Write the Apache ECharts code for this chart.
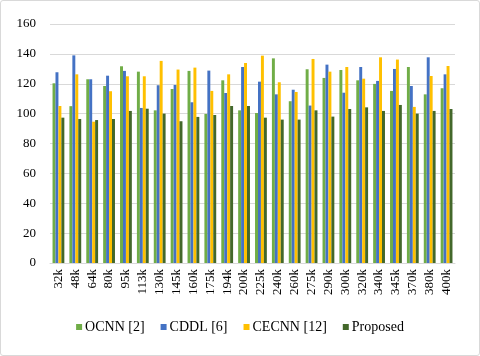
<!DOCTYPE html>
<html>
<head>
<meta charset="utf-8">
<script src="https://cdn.jsdelivr.net/npm/echarts@6/dist/echarts.min.js"></script>
<style>
html, body { margin: 0; padding: 0; background: #fff; }
#chart { width: 478px; height: 354px; border: 1px solid #d9d9d9; border-radius: 3px; }
</style>
</head>
<body>
<div id="chart"></div>
<script>
var categories = ['32k', '48k', '64k', '80k', '95k', '113k', '130k', '145k', '160k', '175k', '194k', '200k',
    '225k', '240k', '260k', '275k', '290k', '300k', '320k', '340k', '345k', '370k', '380k', '400k'];

var ocnn = [120.3, 105, 123, 118.5, 131.7, 128.1, 102.2, 116.5, 128.6, 99.8, 122.3, 102.2,
    100.4, 137, 108.3, 129.7, 123.9, 129.2, 122.3, 119.9, 115.2, 131.2, 112.9, 117];
var cddl = [127.7, 139, 123, 125.4, 128.6, 103.8, 119, 119.2, 107.6, 128.8, 113.8, 131.2,
    121.4, 112.9, 116, 105.4, 132.8, 114, 131.2, 121.9, 129.9, 118.5, 137.7, 126.3];
var cecnn = [105.1, 126.3, 94.6, 115, 125, 125, 135.3, 129.5, 130.8, 115.2, 126.3, 133.9,
    138.8, 121, 114.5, 136.6, 128.1, 131.2, 123.4, 137.7, 136.2, 104.5, 125.2, 131.9];
var proposed = [97.3, 96.4, 95.7, 96.4, 101.8, 103.3, 100, 94.9, 97.8, 99.1, 105.1, 105.1,
    97.3, 96, 96, 102.2, 98, 103.1, 104.2, 101.8, 105.8, 100, 101.8, 103.1];

var seriesNames = ['OCNN [2]', 'CDDL [6]', 'CECNN [12]', 'Proposed'];
var seriesColors = ['#70AD47', '#4472C4', '#FFC000', '#43682B'];
var seriesData = [ocnn, cddl, cecnn, proposed];

var font = 'Liberation Serif';

var chart = echarts.init(document.getElementById('chart'));

var series = [];
for (var i = 0; i < seriesNames.length; i++) {
    series.push({
        name: seriesNames[i],
        type: 'bar',
        data: seriesData[i],
        itemStyle: { color: seriesColors[i] },
        barGap: '0%',
        barCategoryGap: '30%'
    });
}

var option = {
    animation: false,
    textStyle: { fontFamily: font },
    legend: {
        bottom: 16,
        left: 'center',
        itemWidth: 6,
        itemHeight: 6,
        itemGap: 16,
        icon: 'rect',
        textStyle: { fontFamily: font, fontSize: 14, color: '#000', padding: [0, 0, 0, -2] },
        data: seriesNames
    },
    grid: {
        left: 49,
        right: 24,
        top: 23,
        bottom: 92
    },
    xAxis: {
        type: 'category',
        data: categories,
        axisTick: { show: false },
        axisLine: { lineStyle: { color: '#d9d9d9' } },
        axisLabel: { interval: 0, rotate: 90, color: '#000', fontFamily: font, fontSize: 13, margin: 6 }
    },
    yAxis: {
        type: 'value',
        min: 0,
        max: 160,
        interval: 20,
        axisLine: { show: false },
        axisTick: { show: false },
        splitLine: { lineStyle: { color: '#d9d9d9' } },
        axisLabel: { color: '#000', fontFamily: font, fontSize: 13, margin: 14 }
    },
    series: series
};

chart.setOption(option);
</script>
</body>
</html>
